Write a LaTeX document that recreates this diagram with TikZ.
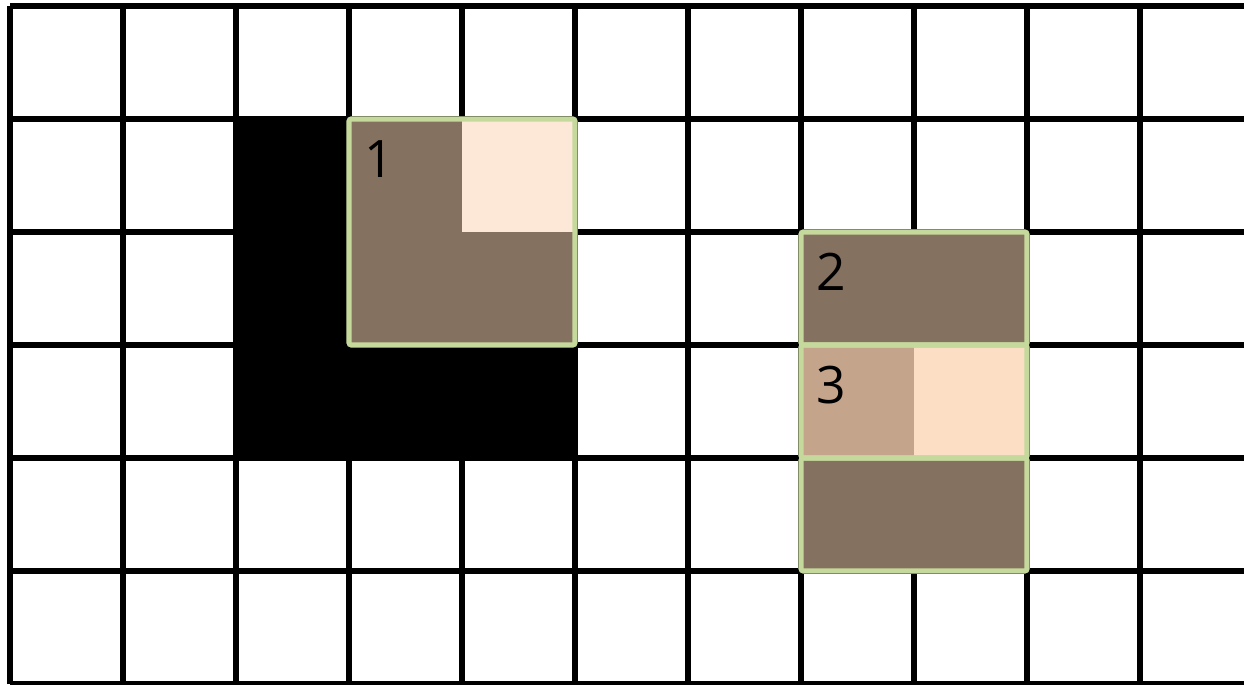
\documentclass[tikz,border=0pt]{standalone}
\usepackage{fontspec}
\setmainfont{Open Sans}
\usetikzlibrary{positioning}
\definecolor{darkbrown}{HTML}{85715F}
\definecolor{lightpeach}{HTML}{FDE8D8}
\definecolor{tanbrown}{HTML}{C4A48B}
\definecolor{peach}{HTML}{FBDEC4}
\definecolor{selgreen}{HTML}{C5D99C}
\tikzstyle{every node}=[font=\fontsize{13}{15}\selectfont]
\tikzstyle{gridline}=[line width=1.3pt,black]
\tikzstyle{selbox}=[line width=1.3pt,draw=selgreen,rounded corners=0.6pt]
\tikzstyle{boxlabel}=[inner sep=0pt,anchor=center]

\begin{document}
\begin{tikzpicture}
%Pixel grid with selected windows
	\newcommand\lx{0.27} %% label offset from the top left corner
	\newcommand\ly{0.355}
	\useasboundingbox (-0.0885,0) rectangle (10.92,6.053);
	\draw [gridline] (0,0) grid (11,6);
	%black L shaped region
	\fill [black] (2,2) rectangle (3,5);
	\fill [black] (2,2) rectangle (5,3);
	%WINDOW 1
	\coordinate (W1TL) at (3,5); %% W1TL is the top left corner of window 1
	\fill [darkbrown] (3,3) rectangle (5,5);
	\fill [lightpeach] (4,4) rectangle (5,5);
	\draw [selbox] (3,3) rectangle (5,5);
	%WINDOWS 2 and 3
	\coordinate (W2TL) at (7,4); %% W2TL is the top left corner of window 2
	\coordinate (W3TL) at (7,3); %% W3TL is the top left corner of window 3
	\fill [darkbrown] (7,3) rectangle (9,4);
	\fill [tanbrown] (7,2) rectangle (8,3);
	\fill [peach] (8,2) rectangle (9,3);
	\fill [darkbrown] (7,1) rectangle (9,2);
	\draw [selbox] (7,3) rectangle (9,4);
	\draw [selbox] (7,2) rectangle (9,3);
	\draw [selbox] (7,1) rectangle (9,2);
	%labels
	\node [boxlabel] (L1) at ([shift={(\lx,-\ly)}]W1TL) {1};
	\node [boxlabel] (L2) at ([shift={(\lx,-\ly)}]W2TL) {2};
	\node [boxlabel] (L3) at ([shift={(\lx,-\ly)}]W3TL) {3};
\end{tikzpicture}
\end{document}
